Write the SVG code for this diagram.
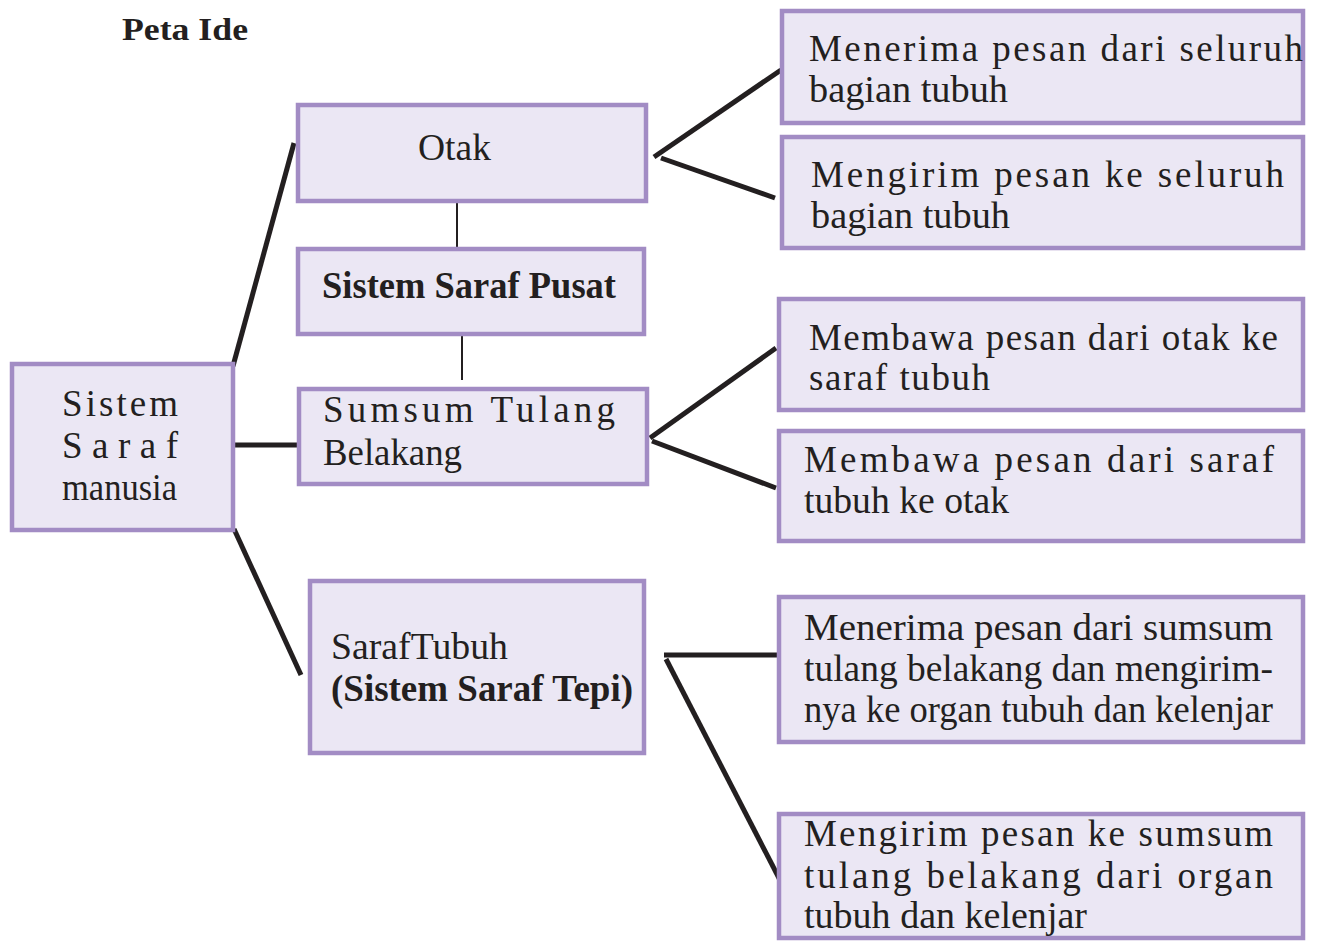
<svg xmlns="http://www.w3.org/2000/svg" width="1317" height="941" viewBox="0 0 1317 941" font-family="'Liberation Serif', serif">
<style>
text{font-family:'Liberation Serif',serif}
.box{fill:#ebe7f4;stroke:#a28cc4;stroke-width:4.5}
.t{font-size:37px;fill:#231f20}
.b{font-weight:bold}
.c{stroke:#231f20;stroke-width:5;fill:none}
.thin{stroke:#231f20;stroke-width:2;fill:none}
</style>
<rect width="1317" height="941" fill="#ffffff"/>
<text class="t b" x="122" y="40" style="font-size:31px" textLength="126" lengthAdjust="spacingAndGlyphs">Peta Ide</text>
<g id="connectors">
<line class="c" x1="233" y1="366" x2="294" y2="143"/>
<line class="c" x1="235" y1="445" x2="298" y2="445"/>
<line class="c" x1="234" y1="529" x2="301" y2="675"/>
<line class="thin" x1="457" y1="201" x2="457" y2="249"/>
<line class="thin" x1="462" y1="334" x2="462" y2="380"/>
<line class="c" x1="654" y1="157" x2="781" y2="70"/>
<line class="c" x1="661" y1="158" x2="775" y2="198"/>
<line class="c" x1="650" y1="438" x2="776" y2="348"/>
<line class="c" x1="652" y1="441" x2="776" y2="488"/>
<line class="c" x1="664" y1="655" x2="779" y2="655"/>
<line class="c" x1="666" y1="659" x2="781" y2="882"/>
</g>
<g id="node-sistem-saraf-manusia">
<rect class="box" x="12" y="364" width="221" height="166"/>
<text class="t" x="62" y="416" textLength="116" lengthAdjust="spacing">Sistem</text>
<text class="t" x="62" y="458" textLength="116" lengthAdjust="spacing">Saraf</text>
<text class="t" x="62" y="500" textLength="115" lengthAdjust="spacingAndGlyphs">manusia</text>
</g>
<g id="node-otak">
<rect class="box" x="298" y="105" width="348" height="96"/>
<text class="t" x="418" y="160" textLength="73" lengthAdjust="spacingAndGlyphs">Otak</text>
</g>
<g id="node-ssp">
<rect class="box" x="298" y="249" width="346" height="85"/>
<text class="t b" x="322" y="298" textLength="294" lengthAdjust="spacingAndGlyphs">Sistem Saraf Pusat</text>
</g>
<g id="node-sumsum">
<rect class="box" x="299" y="389" width="348" height="95"/>
<text class="t" x="323" y="422" textLength="292" lengthAdjust="spacing">Sumsum  Tulang</text>
<text class="t" x="323" y="465" textLength="139" lengthAdjust="spacingAndGlyphs">Belakang</text>
</g>
<g id="node-saraf-tubuh">
<rect class="box" x="310" y="581" width="334" height="172"/>
<text class="t" x="331" y="659" textLength="177" lengthAdjust="spacingAndGlyphs">SarafTubuh</text>
<text class="t b" x="331" y="701" textLength="302" lengthAdjust="spacingAndGlyphs">(Sistem Saraf Tepi)</text>
</g>
<g id="node-r1">
<rect class="box" x="782" y="11" width="521" height="112"/>
<text class="t" x="809" y="61" textLength="494" lengthAdjust="spacing">Menerima pesan dari seluruh</text>
<text class="t" x="809" y="102" textLength="199" lengthAdjust="spacingAndGlyphs">bagian tubuh</text>
</g>
<g id="node-r2">
<rect class="box" x="782" y="137" width="521" height="111"/>
<text class="t" x="811" y="187" textLength="473" lengthAdjust="spacing">Mengirim pesan ke seluruh</text>
<text class="t" x="811" y="228" textLength="199" lengthAdjust="spacingAndGlyphs">bagian tubuh</text>
</g>
<g id="node-r3">
<rect class="box" x="779" y="299" width="524" height="111"/>
<text class="t" x="809" y="350" textLength="469" lengthAdjust="spacing">Membawa pesan dari otak ke</text>
<text class="t" x="809" y="390" textLength="181" lengthAdjust="spacing">saraf tubuh</text>
</g>
<g id="node-r4">
<rect class="box" x="779" y="431" width="524" height="110"/>
<text class="t" x="804" y="472" textLength="470" lengthAdjust="spacing">Membawa pesan dari saraf</text>
<text class="t" x="804" y="513" textLength="205" lengthAdjust="spacingAndGlyphs">tubuh ke otak</text>
</g>
<g id="node-r5">
<rect class="box" x="779" y="597" width="524" height="145"/>
<text class="t" x="804" y="640" textLength="469" lengthAdjust="spacingAndGlyphs">Menerima pesan dari sumsum</text>
<text class="t" x="804" y="681" textLength="469" lengthAdjust="spacingAndGlyphs">tulang belakang dan mengirim-</text>
<text class="t" x="804" y="722" textLength="469" lengthAdjust="spacingAndGlyphs">nya ke organ tubuh dan kelenjar</text>
</g>
<g id="node-r6">
<rect class="box" x="779" y="814" width="524" height="124"/>
<text class="t" x="804" y="846" textLength="469" lengthAdjust="spacing">Mengirim pesan ke sumsum</text>
<text class="t" x="804" y="888" textLength="469" lengthAdjust="spacing">tulang belakang dari organ</text>
<text class="t" x="804" y="928" textLength="283" lengthAdjust="spacingAndGlyphs">tubuh dan kelenjar</text>
</g>
</svg>
